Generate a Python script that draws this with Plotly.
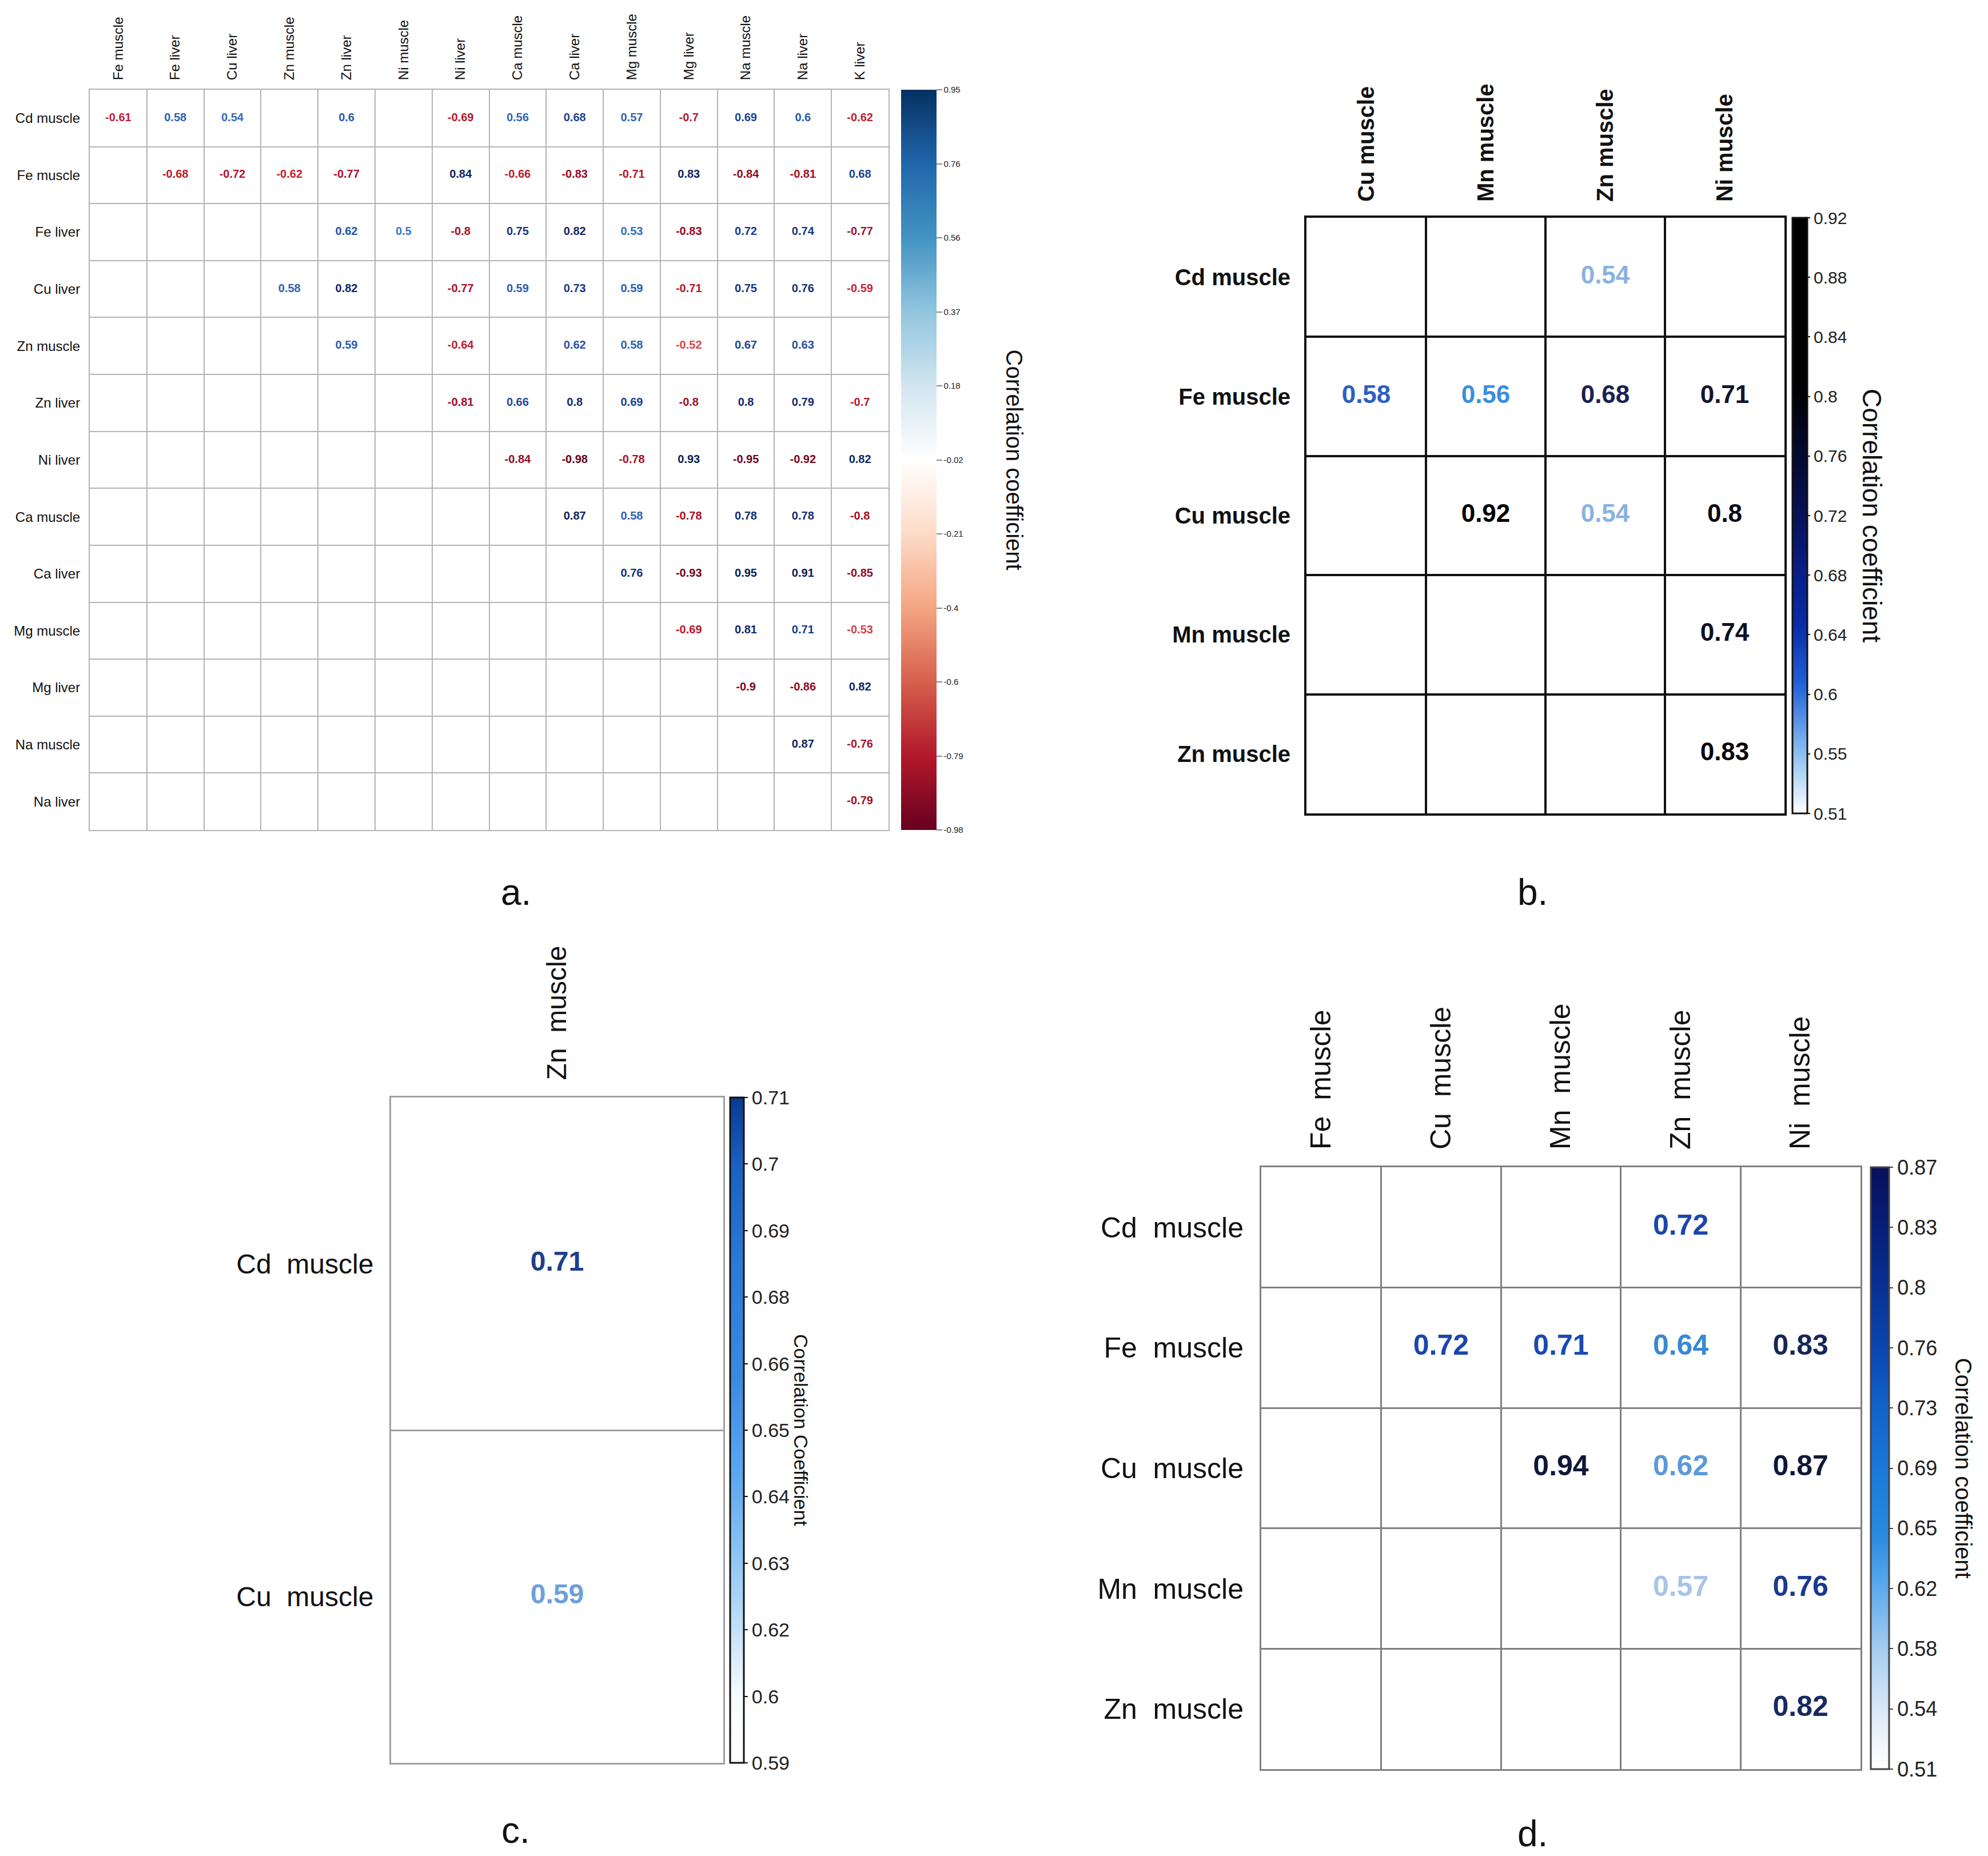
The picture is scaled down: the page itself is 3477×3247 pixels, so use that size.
import numpy as np
import plotly.graph_objects as go
from plotly.colors import sample_colorscale

W, H = 3477, 3247
FONT = "Liberation Sans, Arial, Helvetica, sans-serif"

# ---------------- data ----------------
A_COLS = ["Fe muscle", "Fe liver", "Cu liver", "Zn muscle", "Zn liver", "Ni muscle", "Ni liver",
          "Ca muscle", "Ca liver", "Mg muscle", "Mg liver", "Na muscle", "Na liver", "K liver"]
A_ROWS = ["Cd muscle", "Fe muscle", "Fe liver", "Cu liver", "Zn muscle", "Zn liver", "Ni liver",
          "Ca muscle", "Ca liver", "Mg muscle", "Mg liver", "Na muscle", "Na liver"]
N = None
A_VALS = [
    [-0.61, 0.58, 0.54, N, 0.6, N, -0.69, 0.56, 0.68, 0.57, -0.7, 0.69, 0.6, -0.62],
    [N, -0.68, -0.72, -0.62, -0.77, N, 0.84, -0.66, -0.83, -0.71, 0.83, -0.84, -0.81, 0.68],
    [N, N, N, N, 0.62, 0.5, -0.8, 0.75, 0.82, 0.53, -0.83, 0.72, 0.74, -0.77],
    [N, N, N, 0.58, 0.82, N, -0.77, 0.59, 0.73, 0.59, -0.71, 0.75, 0.76, -0.59],
    [N, N, N, N, 0.59, N, -0.64, N, 0.62, 0.58, -0.52, 0.67, 0.63, N],
    [N, N, N, N, N, N, -0.81, 0.66, 0.8, 0.69, -0.8, 0.8, 0.79, -0.7],
    [N, N, N, N, N, N, N, -0.84, -0.98, -0.78, 0.93, -0.95, -0.92, 0.82],
    [N, N, N, N, N, N, N, N, 0.87, 0.58, -0.78, 0.78, 0.78, -0.8],
    [N, N, N, N, N, N, N, N, N, 0.76, -0.93, 0.95, 0.91, -0.85],
    [N, N, N, N, N, N, N, N, N, N, -0.69, 0.81, 0.71, -0.53],
    [N, N, N, N, N, N, N, N, N, N, N, -0.9, -0.86, 0.82],
    [N, N, N, N, N, N, N, N, N, N, N, N, 0.87, -0.76],
    [N, N, N, N, N, N, N, N, N, N, N, N, N, -0.79],
]
A_CB_LABELS = ["-0.98", "-0.79", "-0.6", "-0.4", "-0.21", "-0.02", "0.18", "0.37", "0.56", "0.76", "0.95"]
A_LIM = (-0.98, 0.95)

B_COLS = ["Cu muscle", "Mn muscle", "Zn muscle", "Ni muscle"]
B_ROWS = ["Cd muscle", "Fe muscle", "Cu muscle", "Mn muscle", "Zn muscle"]
B_VALS = [
    [N, N, 0.54, N],
    [0.58, 0.56, 0.68, 0.71],
    [N, 0.92, 0.54, 0.8],
    [N, N, N, 0.74],
    [N, N, N, 0.83],
]
B_CB_LABELS = ["0.51", "0.55", "0.6", "0.64", "0.68", "0.72", "0.76", "0.8", "0.84", "0.88", "0.92"]
B_LIM = (0.51, 0.92)

C_COLS = ["Zn\u00a0\u00a0muscle"]
C_ROWS = ["Cd\u00a0\u00a0muscle", "Cu\u00a0\u00a0muscle"]
C_VALS = [[0.71], [0.59]]
C_CB_LABELS = ["0.59", "0.6", "0.62", "0.63", "0.64", "0.65", "0.66", "0.68", "0.69", "0.7", "0.71"]
C_LIM = (0.59, 0.71)

D_COLS = ["Fe\u00a0\u00a0muscle", "Cu\u00a0\u00a0muscle", "Mn\u00a0\u00a0muscle", "Zn\u00a0\u00a0muscle", "Ni\u00a0\u00a0muscle"]
D_ROWS = ["Cd\u00a0\u00a0muscle", "Fe\u00a0\u00a0muscle", "Cu\u00a0\u00a0muscle", "Mn\u00a0\u00a0muscle", "Zn\u00a0\u00a0muscle"]
D_VALS = [
    [N, N, N, 0.72, N],
    [N, 0.72, 0.71, 0.64, 0.83],
    [N, N, 0.94, 0.62, 0.87],
    [N, N, N, 0.57, 0.76],
    [N, N, N, N, 0.82],
]
D_CB_LABELS = ["0.51", "0.54", "0.58", "0.62", "0.65", "0.69", "0.73", "0.76", "0.8", "0.83", "0.87"]
D_LIM = (0.51, 0.87)

# ---------------- colour scales ----------------
RDBU = [[0.0, "rgb(103,0,31)"], [0.1, "rgb(178,24,43)"], [0.2, "rgb(214,96,77)"],
        [0.3, "rgb(244,165,130)"], [0.4, "rgb(253,219,199)"], [0.5, "rgb(255,255,255)"],
        [0.6, "rgb(209,229,240)"], [0.7, "rgb(146,197,222)"], [0.8, "rgb(67,147,195)"],
        [0.9, "rgb(33,102,172)"], [1.0, "rgb(5,48,97)"]]
A_TEXT_SCALE = [[0.0, "rgb(103,0,31)"], [0.1, "rgb(165,15,38)"], [0.2, "rgb(200,35,50)"],
                [0.26, "rgb(228,90,85)"], [0.5, "rgb(200,200,200)"], [0.74, "rgb(70,130,210)"],
                [0.8, "rgb(45,100,185)"], [0.87, "rgb(25,62,145)"], [0.93, "rgb(15,38,105)"],
                [1.0, "rgb(5,30,80)"]]
B_SCALE = [[0.0, "rgb(255,255,255)"], [0.1, "rgb(140,192,240)"], [0.22, "rgb(31,95,216)"],
           [0.32, "rgb(10,42,168)"], [0.42, "rgb(8,28,128)"], [0.52, "rgb(6,16,79)"],
           [0.62, "rgb(4,8,40)"], [0.72, "rgb(0,0,0)"], [1.0, "rgb(0,0,0)"]]
B_TEXT_SCALE = [[0.0, "rgb(190,210,235)"], [0.07, "rgb(143,180,224)"], [0.12, "rgb(58,144,224)"],
                [0.17, "rgb(42,96,192)"], [0.42, "rgb(26,32,80)"], [0.5, "rgb(16,20,42)"],
                [0.7, "rgb(8,8,16)"], [1.0, "rgb(0,0,0)"]]
C_SCALE = [[0.0, "rgb(255,255,255)"], [0.1, "rgb(248,251,255)"], [0.25, "rgb(168,212,244)"],
           [0.42, "rgb(96,170,240)"], [0.58, "rgb(58,138,224)"], [0.75, "rgb(42,122,216)"],
           [0.9, "rgb(26,96,192)"], [1.0, "rgb(10,58,144)"]]
C_TEXT_SCALE = [[0.0, "rgb(110,160,216)"], [1.0, "rgb(31,63,143)"]]
D_SCALE = [[0.0, "rgb(255,255,255)"], [0.083, "rgb(224,236,248)"], [0.194, "rgb(168,206,240)"],
           [0.306, "rgb(90,168,236)"], [0.389, "rgb(42,138,224)"], [0.5, "rgb(26,120,216)"],
           [0.611, "rgb(16,96,200)"], [0.694, "rgb(10,72,176)"], [0.806, "rgb(8,48,144)"],
           [0.889, "rgb(6,32,122)"], [1.0, "rgb(8,16,90)"]]
D_TEXT_SCALE = [[0.0, "rgb(220,232,248)"], [0.167, "rgb(168,196,232)"], [0.306, "rgb(90,154,216)"],
                [0.361, "rgb(58,136,208)"], [0.556, "rgb(26,74,180)"], [0.694, "rgb(26,58,144)"],
                [0.861, "rgb(24,42,96)"], [1.0, "rgb(16,24,56)"]]


def fx(p):
    return p / W


def fy(p):
    return 1 - p / H


fig = go.Figure()
annotations = []


def add_panel(k, cols, rows, vals, lim, scale, text_scale, cb_labels, box, cb, st):
    x0, y0, x1, y1 = box
    xa = "x" if k == 1 else f"x{k}"
    ya = "y" if k == 1 else f"y{k}"
    xs, ys, txt, v = [], [], [], []
    for r, row in enumerate(vals):
        for c, val in enumerate(row):
            if val is None:
                continue
            xs.append(c)
            ys.append(r)
            txt.append(f"<b>{val:g}</b>")
            v.append(val)
    lo, hi = lim
    fr = [min(max((a - lo) / (hi - lo), 0), 1) for a in v]
    colors = sample_colorscale(text_scale, fr)
    fig.add_trace(go.Scatter(
        x=xs, y=ys, text=txt, mode="markers+text", xaxis=xa, yaxis=ya,
        textposition="middle center", hoverinfo="skip", showlegend=False,
        textfont=dict(color=colors, size=st["num"], family=FONT),
        marker=dict(size=1, opacity=0, color=v, colorscale=scale, cmin=lo, cmax=hi,
                    showscale=True,
                    colorbar=dict(
                        x=fx(cb[0]), xanchor="left", xpad=0,
                        y=fy((y0 + y1) / 2), yanchor="middle", ypad=0,
                        len=(y1 - y0) / H, lenmode="fraction",
                        thickness=cb[1] - cb[0], thicknessmode="pixels",
                        outlinewidth=st["cbout"], outlinecolor=st["cboutc"],
                        tickmode="array", tickvals=list(np.linspace(lo, hi, len(cb_labels))),
                        ticktext=cb_labels, ticks="outside", ticklen=st["cbticklen"],
                        tickwidth=2, tickcolor=st["cboutc"],
                        tickfont=dict(size=st["cbtick"], family=FONT, color="#222222"),
                    )),
    ))
    lw, lc = st["lw"], st["lc"]
    common = dict(showgrid=False, zeroline=False, showline=True, mirror=True,
                  linecolor=lc, linewidth=lw, ticks="", fixedrange=True)
    labfont = dict(size=st["lab"], family=FONT, color="#111111", weight=st.get("labw", "normal"))
    fig.layout[("xaxis" if k == 1 else f"xaxis{k}")] = dict(
        domain=[fx(x0), fx(x1)], anchor=ya, range=[-0.5, len(cols) - 0.5],
        tickmode="array", tickvals=list(range(len(cols))), ticktext=cols,
        side="top", tickangle=-90, ticklabelstandoff=st["standoff"],
        tickfont=labfont,
        minor=dict(tickvals=[i + 0.5 for i in range(len(cols) - 1)], showgrid=True,
                   gridcolor=lc, gridwidth=lw, ticks=""),
        **common)
    fig.layout[("yaxis" if k == 1 else f"yaxis{k}")] = dict(
        domain=[fy(y1), fy(y0)], anchor=xa, range=[len(rows) - 0.5, -0.5],
        tickmode="array", tickvals=list(range(len(rows))), ticktext=rows,
        ticklabelstandoff=st["standoff"],
        tickfont=labfont,
        minor=dict(tickvals=[i + 0.5 for i in range(len(rows) - 1)], showgrid=True,
                   gridcolor=lc, gridwidth=lw, ticks=""),
        **common)
    annotations.append(dict(
        text=st["cbtitle"], x=fx(st["cbtx"]), y=fy((y0 + y1) / 2), xref="paper", yref="paper",
        textangle=90, showarrow=False, xanchor="center", yanchor="middle",
        font=dict(size=st["cbts"], family=FONT, color="#111111")))
    annotations.append(dict(
        text=st["letter"], x=fx(st["lxy"][0]), y=fy(st["lxy"][1]), xref="paper", yref="paper",
        showarrow=False, xanchor="center", yanchor="middle",
        font=dict(size=64, family=FONT, color="#111111")))


add_panel(1, A_COLS, A_ROWS, A_VALS, A_LIM, RDBU, A_TEXT_SCALE, A_CB_LABELS,
          (149, 149, 1546, 1444), (1568, 1630),
          dict(num=20, lab=24, lw=2, lc="#b4b4b4", cbout=0, cboutc="#888888", cbticklen=10,
               cbtick=15, standoff=10, cbtitle="Correlation coefficient", cbtx=1765, cbts=40,
               letter="a.", lxy=(894, 1553)))
add_panel(2, B_COLS, B_ROWS, B_VALS, B_LIM, B_SCALE, B_TEXT_SCALE, B_CB_LABELS,
          (2277, 373, 3113, 1415), (3127, 3153),
          dict(num=44, lab=40, labw="bold", lw=4, lc="#111111", cbout=3, cboutc="#111111",
               cbticklen=4, cbtick=30, standoff=16, cbtitle="Correlation coefficient", cbtx=3266,
               cbts=46, letter="b.", lxy=(2672, 1553)))
add_panel(3, C_COLS, C_ROWS, C_VALS, C_LIM, C_SCALE, C_TEXT_SCALE, C_CB_LABELS,
          (676, 1912, 1257, 3076), (1269, 1293),
          dict(num=48, lab=48, lw=3, lc="#a0a0a0", cbout=3, cboutc="#111111", cbticklen=6,
               cbtick=34, standoff=18, cbtitle="Correlation Coefficient", cbtx=1393, cbts=34,
               letter="c.", lxy=(894, 3194)))
add_panel(4, D_COLS, D_ROWS, D_VALS, D_LIM, D_SCALE, D_TEXT_SCALE, D_CB_LABELS,
          (2198, 2034, 3246, 3087), (3264, 3296),
          dict(num=50, lab=50, lw=3, lc="#808080", cbout=3, cboutc="#444444", cbticklen=6,
               cbtick=36, standoff=18, cbtitle="Correlation coefficient", cbtx=3426, cbts=40,
               letter="d.", lxy=(2672, 3200)))

fig.update_layout(width=W, height=H, margin=dict(l=0, r=0, t=0, b=0),
                  paper_bgcolor="white", plot_bgcolor="white",
                  annotations=annotations, showlegend=False,
                  font=dict(family=FONT))
fig.write_html("out.html")
